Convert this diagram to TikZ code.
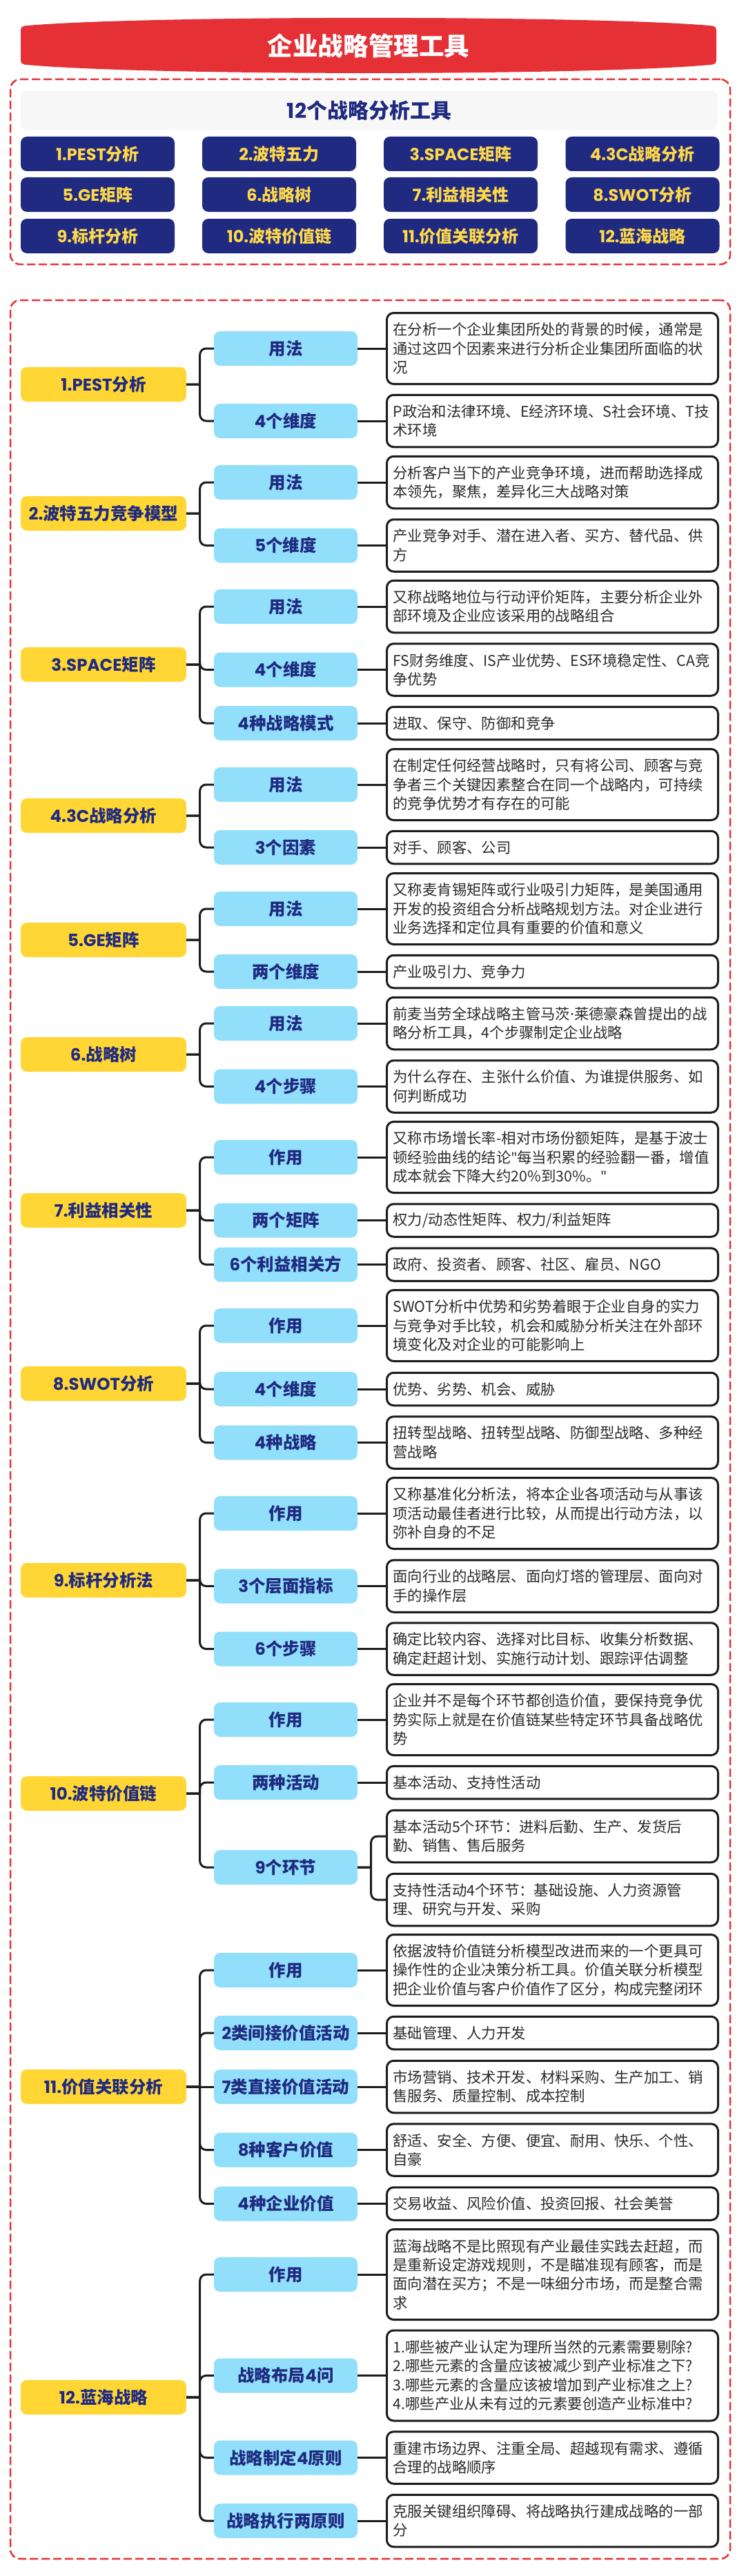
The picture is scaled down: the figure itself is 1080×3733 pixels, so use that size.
\documentclass[tikz,border=0pt]{standalone}
\usepackage{fontspec}
\setmainfont{Noto Sans CJK SC}
\newfontfamily\poppins{Poppins}
\newfontfamily\plainlatin{Noto Sans}
\newcommand{\la}[1]{{\poppins #1}}
\usetikzlibrary{arrows}

\definecolor{redtitle}{HTML}{E53135}
\definecolor{navy}{HTML}{1F2A80}
\definecolor{goldfill}{HTML}{FFD633}
\definecolor{goldtext}{HTML}{FFD84A}
\definecolor{skyfill}{HTML}{92DFFB}
\definecolor{inktext}{HTML}{2B2B2B}
\definecolor{inkline}{HTML}{1C1C1C}

\tikzset{
  frame/.style={draw=redtitle,line width=2.5pt,dash pattern=on 12pt off 5pt,rounded corners=14pt,minimum width=1043pt,inner sep=0pt},
  tool/.style={fill=navy,text=goldtext,rounded corners=9pt,minimum width=223pt,minimum height=50pt,inner sep=0pt,font=\fontsize{24}{28}\selectfont\bfseries},
  root/.style={fill=goldfill,text=navy,rounded corners=9pt,minimum width=240pt,minimum height=50pt,inner sep=0pt,font=\fontsize{24.5}{28}\selectfont\bfseries},
  part/.style={fill=skyfill,text=navy,rounded corners=9pt,minimum width=208pt,minimum height=50pt,inner sep=0pt,font=\fontsize{24.5}{28}\selectfont\bfseries},
  detail/.style={draw=inkline,fill=white,line width=3pt,rounded corners=10pt,text=inktext,text width=462pt,minimum width=480pt,inner xsep=9pt,inner ysep=0pt,align=left,font=\fontsize{21.4}{27.4}\selectfont},
  l1/.style={detail,minimum height=47.5pt},
  l2/.style={detail,minimum height=75.5pt},
  l3/.style={detail,minimum height=103pt},
  l4/.style={detail,minimum height=131pt},
  lead/.style={draw=inkline,line width=3pt},
  branch/.style={lead,rounded corners=9pt,to path={(\tikztostart.east) -- ++(19.5,0) (\tikztostart.east) ++(19.5,0) |- (\tikztotarget.west)}},
}

\begin{document}
\begin{tikzpicture}[x=1pt,y=-1pt]
\useasboundingbox (0,0) rectangle (1080,3733);

% title band
\fill[redtitle,rounded corners=5pt] (30,38) .. controls (200,22) and (868,22) .. (1038,38) -- (1038,93) .. controls (868,110) and (200,110) .. (30,93) -- cycle;
\node[text=white,font=\fontsize{36.6}{40}\selectfont\bfseries] (title) at (534,66) {企业战略管理工具};

% top panel
\node[frame,minimum height=268pt] (top) at (536.5,249) {};
\node[fill=black!3,rounded corners=10pt,minimum width=1010pt,minimum height=57pt,inner sep=0pt,text=navy,font=\fontsize{30}{34}\selectfont\bfseries] (head) at (535,160) {\la{12}个战略分析工具};
\node[tool] (t1) at (141.5,223) {\la{1.PEST}分析};
\node[tool] (t2) at (404.5,223) {\la{2.}波特五力};
\node[tool] (t3) at (667.5,223) {\la{3.SPACE}矩阵};
\node[tool] (t4) at (931,223) {\la{4.3C}战略分析};
\node[tool] (t5) at (141.5,282) {\la{5.GE}矩阵};
\node[tool] (t6) at (404.5,282) {\la{6.}战略树};
\node[tool] (t7) at (667.5,282) {\la{7.}利益相关性};
\node[tool] (t8) at (931,282) {\la{8.SWOT}分析};
\node[tool] (t9) at (141.5,342) {\la{9.}标杆分析};
\node[tool] (t10) at (404.5,342) {\la{10.}波特价值链};
\node[tool] (t11) at (667.5,342) {\la{11.}价值关联分析};
\node[tool] (t12) at (931,342) {\la{12.}蓝海战略};

% big panel
\node[frame,minimum height=3273pt] (big) at (536.5,2071.5) {};

% 1
\node[l3] (c11) at (800.5,505) {在分析一个企业集团所处的背景的时候，通常是\\通过这四个因素来进行分析企业集团所面临的状\\况};
\node[l2] (c12) at (800.5,610) {P政治和法律环境、E经济环境、S社会环境、T技\\术环境};
\node[part] (b11) at (414,505) {用法} edge [lead] (c11);
\node[part] (b12) at (414,610) {\la{4}个维度} edge [lead] (c12);
\node[root] (a1) at (150,557) {\la{1.PEST}分析}
   edge [branch] (b11)
   edge [branch] (b12);

% 2
\node[l2] (c21) at (800.5,699) {分析客户当下的产业竞争环境，进而帮助选择成\\本领先，聚焦，差异化三大战略对策};
\node[l2] (c22) at (800.5,790.5) {产业竞争对手、潜在进入者、买方、替代品、供\\方};
\node[part] (b21) at (414,699) {用法} edge [lead] (c21);
\node[part] (b22) at (414,790.5) {\la{5}个维度} edge [lead] (c22);
\node[root] (a2) at (150,744) {\la{2.}波特五力竞争模型}
   edge [branch] (b21)
   edge [branch] (b22);

% 3
\node[l2] (c31) at (800.5,879) {又称战略地位与行动评价矩阵，主要分析企业外\\部环境及企业应该采用的战略组合};
\node[l2] (c32) at (800.5,970.5) {FS财务维度、IS产业优势、ES环境稳定性、CA竞\\争优势};
\node[l1] (c33) at (800.5,1048) {进取、保守、防御和竞争};
\node[part] (b31) at (414,879) {用法} edge [lead] (c31);
\node[part] (b32) at (414,970.5) {\la{4}个维度} edge [lead] (c32);
\node[part] (b33) at (414,1048) {\la{4}种战略模式} edge [lead] (c33);
\node[root] (a3) at (150,963) {\la{3.SPACE}矩阵}
   edge [branch] (b31)
   edge [branch] (b32)
   edge [branch] (b33);

% 4
\node[l3] (c41) at (800.5,1137) {在制定任何经营战略时，只有将公司、顾客与竞\\争者三个关键因素整合在同一个战略内，可持续\\的竞争优势才有存在的可能};
\node[l1] (c42) at (800.5,1228) {对手、顾客、公司};
\node[part] (b41) at (414,1137) {用法} edge [lead] (c41);
\node[part] (b42) at (414,1228) {\la{3}个因素} edge [lead] (c42);
\node[root] (a4) at (150,1182) {\la{4.3C}战略分析}
   edge [branch] (b41)
   edge [branch] (b42);

% 5
\node[l3] (c51) at (800.5,1317) {又称麦肯锡矩阵或行业吸引力矩阵，是美国通用\\开发的投资组合分析战略规划方法。对企业进行\\业务选择和定位具有重要的价值和意义};
\node[l1] (c52) at (800.5,1408) {产业吸引力、竞争力};
\node[part] (b51) at (414,1317) {用法} edge [lead] (c51);
\node[part] (b52) at (414,1408) {两个维度} edge [lead] (c52);
\node[root] (a5) at (150,1362) {\la{5.GE}矩阵}
   edge [branch] (b51)
   edge [branch] (b52);

% 6
\node[l2] (c61) at (800.5,1483) {前麦当劳全球战略主管马茨{\plainlatin ·}莱德豪森曾提出的战\\略分析工具，4个步骤制定企业战略};
\node[l2] (c62) at (800.5,1574.5) {为什么存在、主张什么价值、为谁提供服务、如\\何判断成功};
\node[part] (b61) at (414,1483) {用法} edge [lead] (c61);
\node[part] (b62) at (414,1574.5) {\la{4}个步骤} edge [lead] (c62);
\node[root] (a6) at (150,1528) {\la{6.}战略树}
   edge [branch] (b61)
   edge [branch] (b62);

% 7
\node[l3] (c71) at (800.5,1677) {又称市场增长率-相对市场份额矩阵，是基于波士\\顿经验曲线的结论{\plainlatin "}每当积累的经验翻一番，增值\\成本就会下降大约20\%到30\%。{\plainlatin "}};
\node[l1] (c72) at (800.5,1768.5) {权力/动态性矩阵、权力/利益矩阵};
\node[l1] (c73) at (800.5,1832.5) {政府、投资者、顾客、社区、雇员、NGO};
\node[part] (b71) at (414,1677) {作用} edge [lead] (c71);
\node[part] (b72) at (414,1768.5) {两个矩阵} edge [lead] (c72);
\node[part] (b73) at (414,1832.5) {\la{6}个利益相关方} edge [lead] (c73);
\node[root] (a7) at (150,1754) {\la{7.}利益相关性}
   edge [branch] (b71)
   edge [branch] (b72)
   edge [branch] (b73);

% 8
\node[l3] (c81) at (800.5,1921) {SWOT分析中优势和劣势着眼于企业自身的实力\\与竞争对手比较，机会和威胁分析关注在外部环\\境变化及对企业的可能影响上};
\node[l1] (c82) at (800.5,2013) {优势、劣势、机会、威胁};
\node[l2] (c83) at (800.5,2090.5) {扭转型战略、扭转型战略、防御型战略、多种经\\营战略};
\node[part] (b81) at (414,1921) {作用} edge [lead] (c81);
\node[part] (b82) at (414,2013) {\la{4}个维度} edge [lead] (c82);
\node[part] (b83) at (414,2090.5) {\la{4}种战略} edge [lead] (c83);
\node[root] (a8) at (150,2005) {\la{8.SWOT}分析}
   edge [branch] (b81)
   edge [branch] (b82)
   edge [branch] (b83);

% 9
\node[l3] (c91) at (800.5,2193) {又称基准化分析法，将本企业各项活动与从事该\\项活动最佳者进行比较，从而提出行动方法，以\\弥补自身的不足};
\node[l2] (c92) at (800.5,2298.5) {面向行业的战略层、面向灯塔的管理层、面向对\\手的操作层};
\node[l2] (c93) at (800.5,2389.5) {确定比较内容、选择对比目标、收集分析数据、\\确定赶超计划、实施行动计划、跟踪评估调整};
\node[part] (b91) at (414,2193) {作用} edge [lead] (c91);
\node[part] (b92) at (414,2298.5) {\la{3}个层面指标} edge [lead] (c92);
\node[part] (b93) at (414,2389.5) {\la{6}个步骤} edge [lead] (c93);
\node[root] (a9) at (150,2290) {\la{9.}标杆分析法}
   edge [branch] (b91)
   edge [branch] (b92)
   edge [branch] (b93);

% 10, the last part forks twice
\node[l3] (c101) at (800.5,2492) {企业并不是每个环节都创造价值，要保持竞争优\\势实际上就是在价值链某些特定环节具备战略优\\势};
\node[l1] (c102) at (800.5,2583) {基本活动、支持性活动};
\node[l2] (c103) at (800.5,2661) {基本活动5个环节：进料后勤、生产、发货后\\勤、销售、售后服务};
\node[l2] (c104) at (800.5,2753) {支持性活动4个环节：基础设施、人力资源管\\理、研究与开发、采购};
\node[part] (b101) at (414,2492) {作用} edge [lead] (c101);
\node[part] (b102) at (414,2583) {两种活动} edge [lead] (c102);
\node[part] (b103) at (414,2706) {\la{9}个环节}
   edge [branch] (c103)
   edge [branch] (c104);
\node[root] (a10) at (150,2599) {\la{10.}波特价值链}
   edge [branch] (b101)
   edge [branch] (b102)
   edge [branch] (b103);

% 11
\node[l3] (c111) at (800.5,2855) {依据波特价值链分析模型改进而来的一个更具可\\操作性的企业决策分析工具。价值关联分析模型\\把企业价值与客户价值作了区分，构成完整闭环};
\node[l1] (c112) at (800.5,2946) {基础管理、人力开发};
\node[l2] (c113) at (800.5,3024) {市场营销、技术开发、材料采购、生产加工、销\\售服务、质量控制、成本控制};
\node[l2] (c114) at (800.5,3115.5) {舒适、安全、方便、便宜、耐用、快乐、个性、\\自豪};
\node[l1] (c115) at (800.5,3193.5) {交易收益、风险价值、投资回报、社会美誉};
\node[part] (b111) at (414,2855) {作用} edge [lead] (c111);
\node[part] (b112) at (414,2946) {\la{2}类间接价值活动} edge [lead] (c112);
\node[part] (b113) at (414,3024) {\la{7}类直接价值活动} edge [lead] (c113);
\node[part] (b114) at (414,3115.5) {\la{8}种客户价值} edge [lead] (c114);
\node[part] (b115) at (414,3193.5) {\la{4}种企业价值} edge [lead] (c115);
\node[root] (a11) at (150,3024) {\la{11.}价值关联分析}
   edge [branch] (b111)
   edge [branch] (b112)
   edge [lead] (b113)
   edge [branch] (b114)
   edge [branch] (b115);

% 12
\node[l4] (c121) at (800.5,3296) {蓝海战略不是比照现有产业最佳实践去赶超，而\\是重新设定游戏规则，不是瞄准现有顾客，而是\\面向潜在买方；不是一味细分市场，而是整合需\\求};
\node[l4] (c122) at (800.5,3442.5) {1.哪些被产业认定为理所当然的元素需要剔除?\\2.哪些元素的含量应该被减少到产业标准之下?\\3.哪些元素的含量应该被增加到产业标准之上?\\4.哪些产业从未有过的元素要创造产业标准中?};
\node[l2] (c123) at (800.5,3561.5) {重建市场边界、注重全局、超越现有需求、遵循\\合理的战略顺序};
\node[l2] (c124) at (800.5,3653) {克服关键组织障碍、将战略执行建成战略的一部\\分};
\node[part] (b121) at (414,3296) {作用} edge [lead] (c121);
\node[part] (b122) at (414,3442.5) {战略布局\la{4}问} edge [lead] (c122);
\node[part] (b123) at (414,3561.5) {战略制定\la{4}原则} edge [lead] (c123);
\node[part] (b124) at (414,3653) {战略执行两原则} edge [lead] (c124);
\node[root] (a12) at (150,3474) {\la{12.}蓝海战略}
   edge [branch] (b121)
   edge [branch] (b122)
   edge [branch] (b123)
   edge [branch] (b124);
\end{tikzpicture}
\end{document}
